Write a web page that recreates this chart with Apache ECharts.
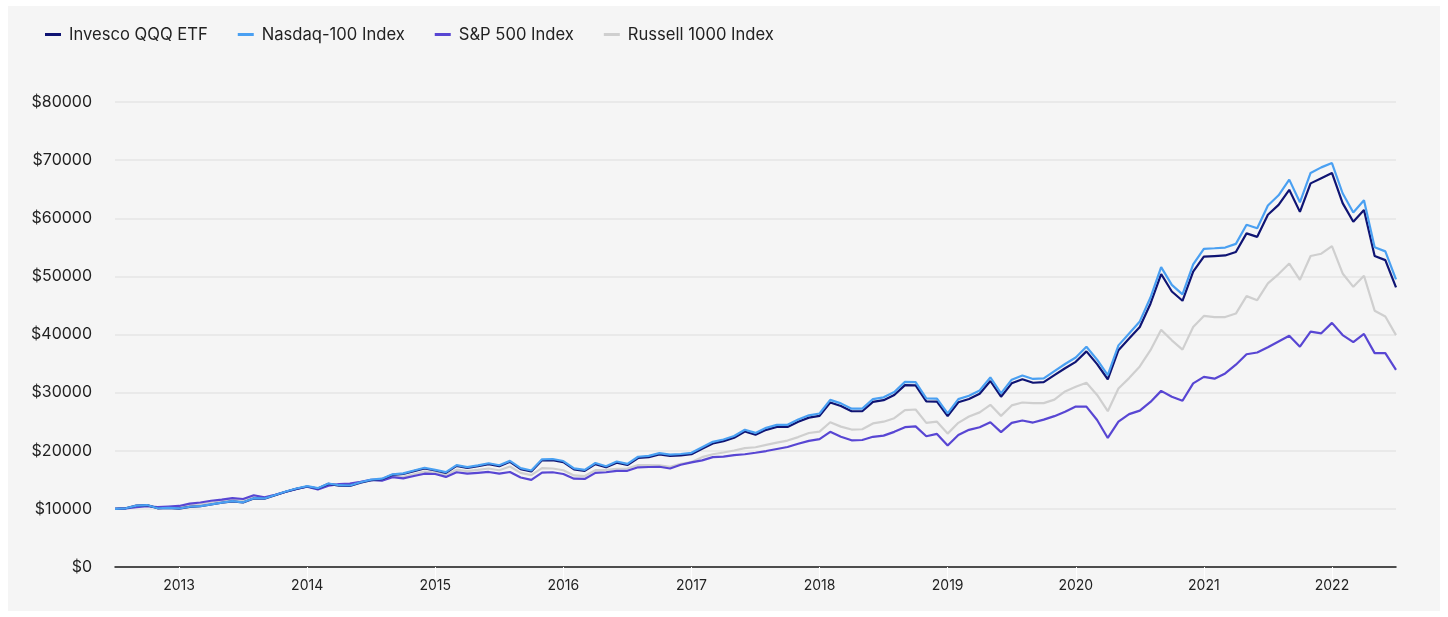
<!DOCTYPE html>
<html>
<head>
<meta charset="utf-8">
<script src="https://cdn.jsdelivr.net/npm/echarts@6/dist/echarts.min.js"></script>
<style>
  html, body { margin: 0; padding: 0; background: #ffffff; width: 1448px; height: 617px; overflow: hidden; }
  #panel { position: absolute; left: 8px; top: 6px; width: 1432px; height: 605px; background: #f5f5f5; }
  #chart { width: 100%; height: 100%; }
</style>
</head>
<body>
<div id="panel"><div id="chart"></div></div>
<script>
// Monthly month-end observations, Jun 2012 .. Jun 2022 (121 points)
const startYear = 2012, startMonth = 6, pointCount = 121;
const yearTickLabels = ['2013','2014','2015','2016','2017','2018','2019','2020','2021','2022'];
const yTickValues = [0, 10000, 20000, 30000, 40000, 50000, 60000, 70000, 80000];

const seriesNames = ['Invesco QQQ ETF', 'Nasdaq-100 Index', 'S&P 500 Index', 'Russell 1000 Index'];

const qqq = [
  10000,10100,10550,10650,10100,10150,10050,10350,10450,10750,11050,11300,11100,
  11800,11750,12350,12950,13450,13850,13500,14300,14000,13950,14500,14950,
  15100,15850,16000,16500,16950,16600,16200,17400,17050,17350,17700,17350,
  18100,16850,16450,18350,18400,18050,16800,16550,17700,17150,17950,17550,
  18750,18900,19350,19100,19200,19400,20350,21250,21650,22250,23300,22750,
  23600,24100,24100,25000,25700,26000,28300,27700,26800,26800,28400,28700,
  29600,31300,31250,28500,28450,25950,28350,28900,29800,32000,29300,31600,
  32300,31700,31800,33000,34200,35300,37100,34900,32300,37300,39300,41300,
  45300,50400,47400,45800,50800,53400,53500,53600,54200,57400,56800,60600,
  62300,64900,61100,66000,66900,67800,62600,59400,61400,53500,52800,48100
];

const nasdaq100 = [
  10000,10100,10560,10660,10110,10160,10070,10370,10470,10780,11080,11330,11130,
  11840,11790,12400,13000,13510,13910,13560,14370,14070,14020,14580,15030,
  15190,15950,16100,16610,17070,16720,16320,17530,17180,17490,17850,17500,
  18260,17000,16600,18520,18580,18230,16970,16720,17890,17340,18150,17750,
  18970,19120,19580,19330,19440,19650,20610,21530,21940,22550,23620,23070,
  23940,24450,24460,25380,26100,26410,28760,28150,27240,27250,28880,29190,
  30110,31850,31810,29010,28970,26430,28880,29450,30370,32620,29880,32230,
  32950,32350,32460,33690,34920,36050,37900,35660,33010,38130,40190,42250,
  46360,51590,48540,46910,52050,54730,54840,54960,55590,58880,58280,62200,
  63950,66640,62750,67800,68750,69500,64300,61000,63100,55000,54300,49500
];

const sp500 = [
  10000,10100,10300,10450,10300,10400,10500,10900,11100,11400,11600,11850,11700,
  12350,12000,12400,12950,13450,13800,13350,14000,14250,14350,14650,15000,
  14850,15450,15250,15650,16050,16000,15500,16300,16050,16200,16350,16050,
  16350,15400,15000,16250,16300,16000,15200,15150,16200,16300,16550,16550,
  17150,17200,17250,16950,17600,18000,18350,18900,19000,19250,19400,19650,
  19950,20300,20650,21200,21700,22000,23250,22400,21800,21850,22400,22600,
  23250,24050,24200,22500,22900,20900,22700,23600,24050,24900,23200,24800,
  25200,24850,25350,25950,26700,27600,27600,25300,22200,25000,26300,26900,
  28400,30300,29300,28600,31600,32700,32400,33300,34800,36600,36900,37800,
  38800,39800,37900,40500,40200,42000,39900,38700,40100,36800,36800,33900
];

const russell1000 = [
  10000,10100,10400,10550,10200,10250,10300,10650,10800,11100,11350,11600,11400,
  12050,11900,12400,12950,13450,13850,13400,14150,14100,14100,14550,14900,
  14900,15600,15500,15950,16400,16250,15850,16750,16500,16700,16950,16650,
  17300,16200,15800,17000,16950,16650,15750,15650,16650,16700,16900,16950,
  17550,17550,17500,17250,17750,18050,18900,19400,19700,20050,20450,20600,
  21000,21400,21750,22350,23050,23300,24900,24150,23650,23700,24700,25000,
  25600,27000,27100,24800,25000,22950,24800,25900,26600,27900,26000,27800,
  28300,28200,28200,28800,30200,31000,31700,29600,26800,30700,32500,34500,
  37300,40800,39000,37400,41300,43200,43000,43000,43600,46600,45900,48800,
  50400,52200,49400,53500,53900,55200,50500,48200,50100,44100,43100,39900
];

const colors = ['#0f1473', '#4aa0f2', '#5846d3', '#cfcfcf'];

// month-end category keys
const months = [];
for (let k = 0; k < pointCount; k++) {
  const m = startMonth - 1 + k;
  const y = startYear + Math.floor(m / 12);
  const mm = (m % 12) + 1;
  months.push(y + '-' + (mm < 10 ? '0' + mm : mm));
}
const isYearTick = (idx) => idx >= 6 && (idx - 6) % 12 === 0;

const fontFamily = 'Inter, "Noto Sans", sans-serif';
const chart = echarts.init(document.getElementById('chart'), null, { renderer: 'canvas' });

const dataSets = [qqq, nasdaq100, sp500, russell1000];
const zOrder = [3, 4, 2, 1];

chart.setOption({
  backgroundColor: 'transparent',
  animation: false,
  color: colors,
  legend: {
    left: 32,
    top: 15,
    itemWidth: 16,
    itemHeight: 3,
    itemGap: 30,
    icon: 'rect',
    textStyle: { color: '#222222', fontSize: 16.6, fontFamily: fontFamily, padding: [0, 0, 0, 3] },
    data: seriesNames
  },
  grid: { left: 107, right: 44, top: 96, bottom: 44, containLabel: false },
  xAxis: {
    type: 'category',
    data: months,
    boundaryGap: false,
    axisLine: { show: true, lineStyle: { color: '#1a1a1a', width: 1.5 } },
    axisTick: {
      show: true,
      interval: (idx) => isYearTick(idx),
      length: 12,
      lineStyle: { color: '#ffffff', width: 1 }
    },
    axisLabel: {
      interval: (idx) => isYearTick(idx),
      formatter: (val, idx) => yearTickLabels[(idx - 6) / 12],
      color: '#222222',
      fontSize: 14,
      fontFamily: fontFamily,
      margin: 12
    },
    splitLine: { show: false }
  },
  yAxis: {
    type: 'value',
    min: yTickValues[0],
    max: yTickValues[yTickValues.length - 1],
    interval: 10000,
    axisLine: { show: false },
    axisTick: { show: false },
    axisLabel: {
      formatter: (v) => '$' + v,
      color: '#222222',
      fontSize: 16,
      fontFamily: fontFamily,
      margin: 23
    },
    splitLine: { show: true, lineStyle: { color: '#e4e4e4', width: 1.5 } }
  },
  series: seriesNames.map((name, k) => ({
    name: name,
    type: 'line',
    data: dataSets[k],
    showSymbol: false,
    symbol: 'none',
    z: zOrder[k],
    lineStyle: { width: 2.2, color: colors[k] },
    itemStyle: { color: colors[k] },
    emphasis: { disabled: true }
  }))
});
</script>
</body>
</html>
